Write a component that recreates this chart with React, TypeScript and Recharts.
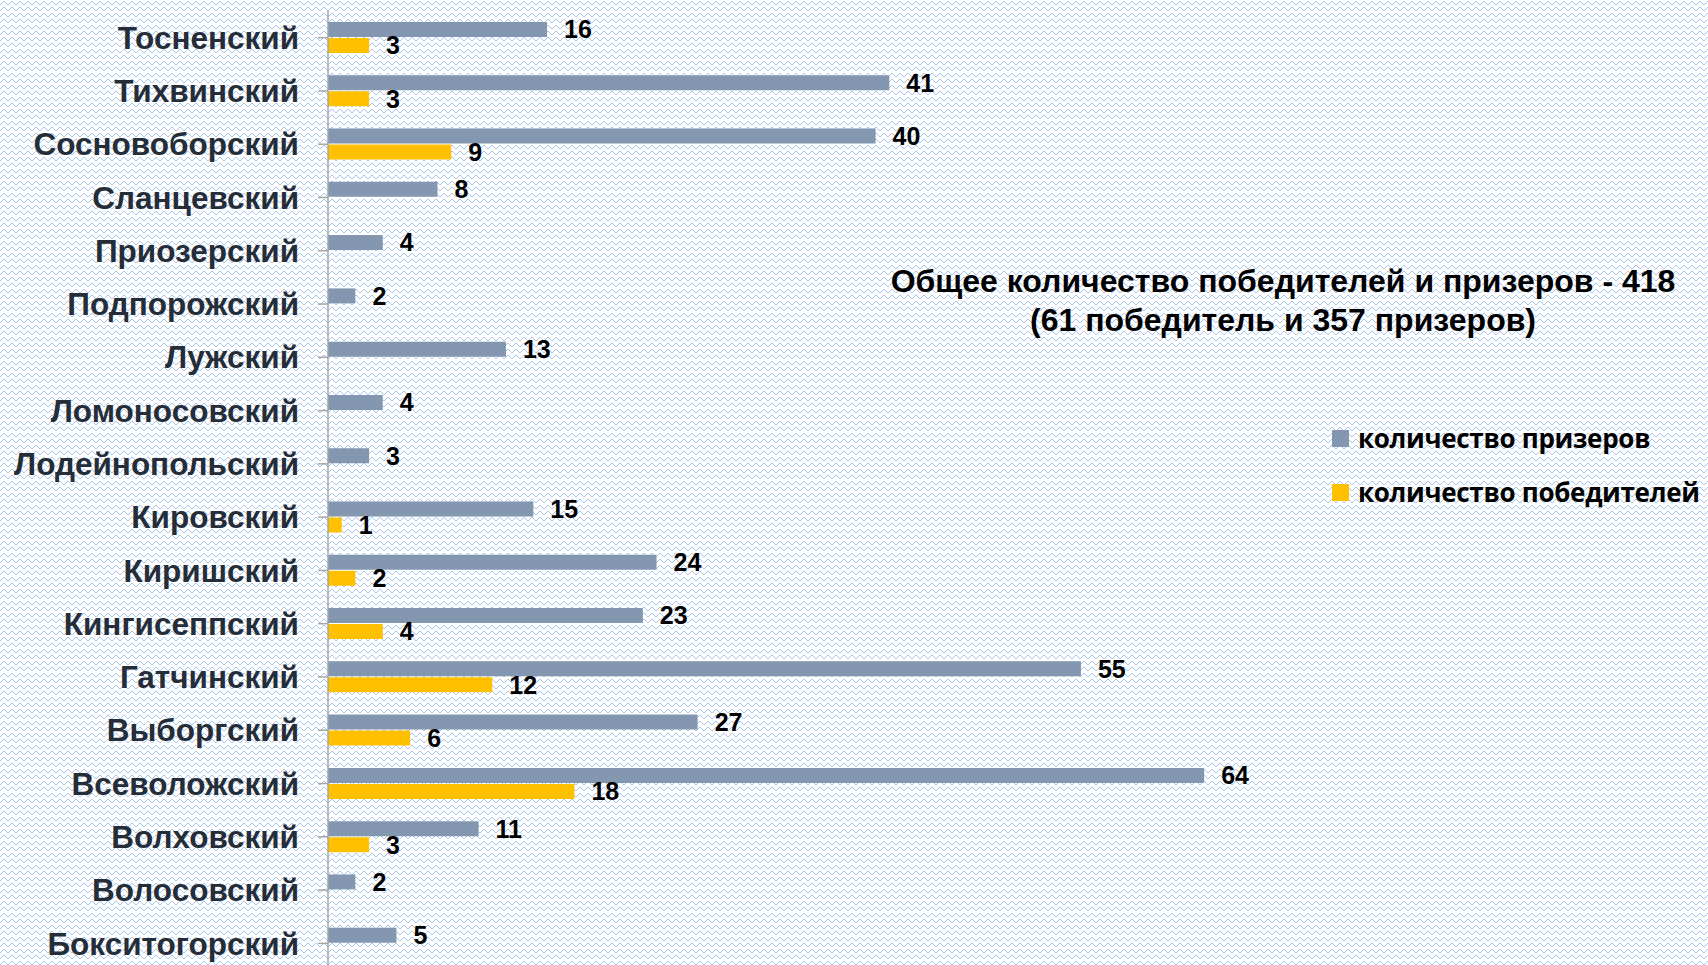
import { BarChart, Bar, XAxis, YAxis, LabelList } from 'recharts';

// Районы сверху вниз, как на слайде
const districts = [
  'Тосненский',
  'Тихвинский',
  'Сосновоборский',
  'Сланцевский',
  'Приозерский',
  'Подпорожский',
  'Лужский',
  'Ломоносовский',
  'Лодейнопольский',
  'Кировский',
  'Киришский',
  'Кингисеппский',
  'Гатчинский',
  'Выборгский',
  'Всеволожский',
  'Волховский',
  'Волосовский',
  'Бокситогорский',
];

const prizeWinners = [16, 41, 40, 8, 4, 2, 13, 4, 3, 15, 24, 23, 55, 27, 64, 11, 2, 5];
const winners: (number | null)[] = [3, 3, 9, null, null, null, null, null, null, 1, 2, 4, 12, 6, 18, 3, null, null];

const SERIES = [
  { key: 'prize', name: 'количество призеров', color: '#8497b0' },
  { key: 'win', name: 'количество победителей', color: '#ffc000' },
];

const titleLines = [
  'Общее количество победителей и призеров - 418',
  '(61 победитель и 357 призеров)',
];

const data = districts.map((name, i) => ({
  name,
  prize: prizeWinners[i],
  win: winners[i],
}));

// светлый голубой «зигзаг» фона слайда
const pattern =
  "url(\"data:image/svg+xml;utf8,<svg xmlns='http://www.w3.org/2000/svg' width='8' height='6' shape-rendering='crispEdges'><path d='M0 5 L4 1 L8 5' fill='none' stroke='%23a9c7ee' stroke-width='1'/></svg>\")";

const fmt = (v: unknown) => (v === null || v === undefined ? '' : String(v));

function LegendBox() {
  return (
    <div style={{ position: 'absolute', left: 1332, top: 411 }}>
      {SERIES.map((s) => (
        <div
          key={s.key}
          style={{ display: 'flex', alignItems: 'center', height: 54 }}
        >
          <span
            style={{ width: 17, height: 17, background: s.color, marginRight: 9 }}
          />
          <span
            style={{
              fontFamily: '"Open Sans", sans-serif',
              fontWeight: 700,
              fontSize: 26,
              color: '#000',
              letterSpacing: -0.3,
              whiteSpace: 'nowrap',
            }}
          >
            {s.name}
          </span>
        </div>
      ))}
    </div>
  );
}

export default function App() {
  return (
    <div
      style={{
        position: 'relative',
        width: 1708,
        height: 965,
        overflow: 'hidden',
        backgroundColor: '#ffffff',
        backgroundImage: pattern,
      }}
    >
      <style>{'body{margin:0}'}</style>
      <BarChart
        width={1708}
        height={970}
        data={data}
        layout="vertical"
        margin={{ top: 11, right: 11, bottom: 0, left: 0 }}
        barSize={15}
        barGap={1}
      >
        <XAxis type="number" domain={[0, 100]} hide />
        <YAxis
          type="category"
          dataKey="name"
          width={328}
          interval={0}
          axisLine={{ stroke: '#a6a6a6', strokeWidth: 1.5 }}
          tickLine={{ stroke: '#a6a6a6', strokeWidth: 1.5 }}
          tickSize={10}
          tickMargin={19}
          tick={{
            fontFamily: '"Liberation Sans", Arial, sans-serif',
            fontWeight: 700,
            fontSize: 31.5,
            fill: '#252d38',
          }}
        />
        {SERIES.map((s) => (
          <Bar
            key={s.key}
            dataKey={s.key}
            name={s.name}
            fill={s.color}
            isAnimationActive={false}
          >
            <LabelList
              dataKey={s.key}
              position="right"
              offset={17}
              formatter={fmt}
              style={{
                fontFamily: '"Liberation Sans", Arial, sans-serif',
                fontWeight: 700,
                fontSize: 25,
                fill: '#000',
              }}
            />
          </Bar>
        ))}
      </BarChart>
      <LegendBox />
      <div
        style={{
          position: 'absolute',
          left: 1283 - 450,
          top: 262,
          width: 900,
          textAlign: 'center',
          fontFamily: '"Liberation Sans", Arial, sans-serif',
          fontWeight: 700,
          fontSize: 32,
          lineHeight: '39px',
          color: '#000',
        }}
      >
        {titleLines.map((l) => (
          <div key={l}>{l}</div>
        ))}
      </div>
    </div>
  );
}
